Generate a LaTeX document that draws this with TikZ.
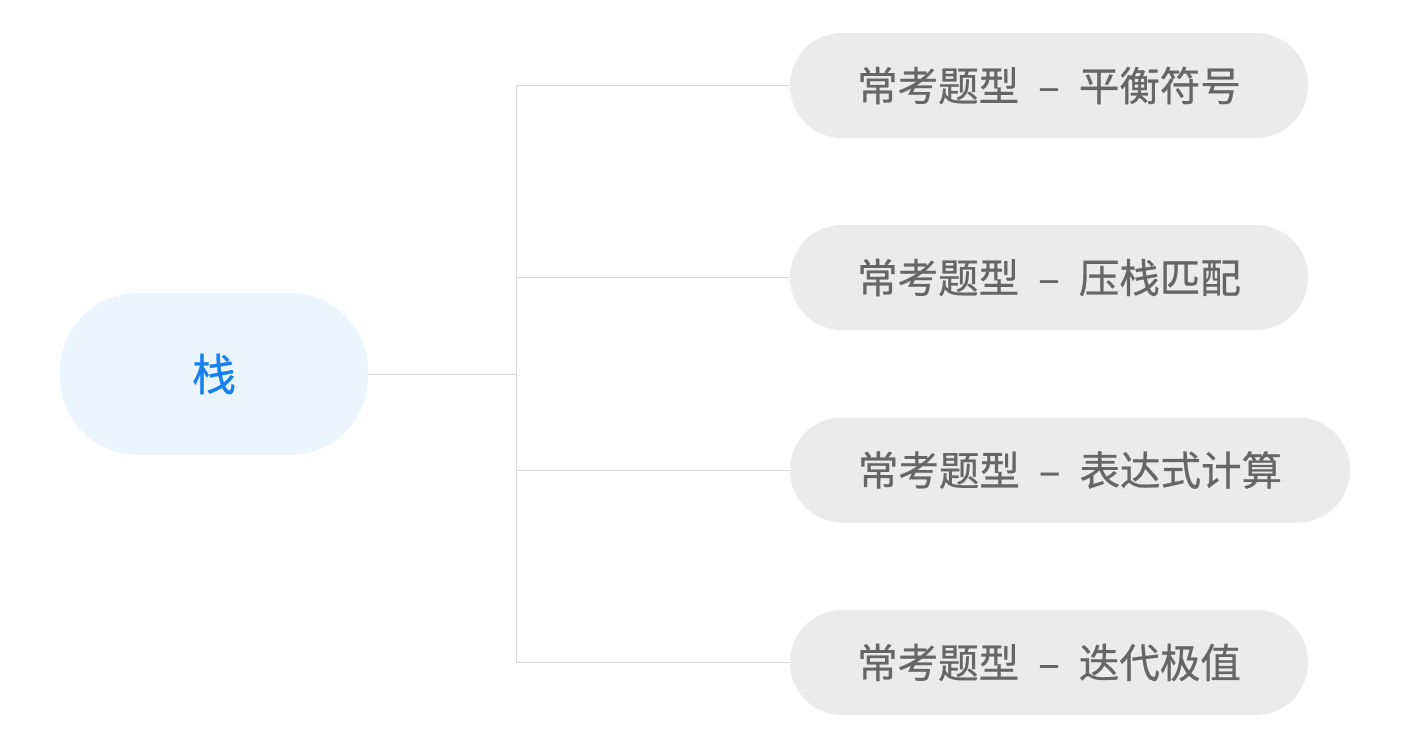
\documentclass[tikz,border=0pt]{standalone}
\usepackage{fontspec}
\setmainfont{Noto Sans CJK SC}
\newfontfamily\topicfont[FakeBold=0.6]{Noto Sans CJK SC}
\usepackage{xcolor}
\definecolor{rootfill}{RGB}{235,245,255}
\definecolor{rootblue}{RGB}{24,128,236}
\definecolor{topicfill}{RGB}{235,235,235}
\definecolor{topicgray}{RGB}{102,102,102}
\definecolor{linkgray}{RGB}{217,217,217}
\usepackage{tikz}
\newcommand{\sep}{\hspace{19pt}–\hspace{19pt}}

\begin{document}
\begin{tikzpicture}[x=1pt, y=-1pt,
        root/.style={fill=rootfill, text=rootblue, rounded corners=78pt,
            minimum width=308pt, minimum height=162pt, inner sep=0pt,
            font=\topicfont\fontsize{44}{50}\selectfont},
        topic/.style={fill=topicfill, text=topicgray, rounded corners=52pt,
            minimum width=518pt, minimum height=105pt, inner sep=0pt,
            font=\topicfont\fontsize{40.5}{46}\selectfont},
        link/.style={draw=linkgray, line width=1pt}
    ]
                \useasboundingbox (0,0) rectangle (1409,747);
                \node [root] (stack) at (214,374) {栈};
                \node [topic] (balance) at (1049,85.5) {常考题型\sep 平衡符号};
                \node [topic] (push) at (1049,277.5) {常考题型\sep 压栈匹配};
                \node [topic, minimum width=560pt] (expr) at (1070,470) {常考题型\sep 表达式计算};
                \node [topic] (iter) at (1049,662.5) {常考题型\sep 迭代极值};
                \coordinate (fork) at (516,374);
                \draw [link] (stack.east) -- (fork);
                \draw [link] (fork |- balance.west) -- (fork |- iter.west);
                \foreach \t in {balance, push, expr, iter}
                    \draw [link] (fork |- \t.west) -- (\t.west);
            \end{tikzpicture}
\end{document}
